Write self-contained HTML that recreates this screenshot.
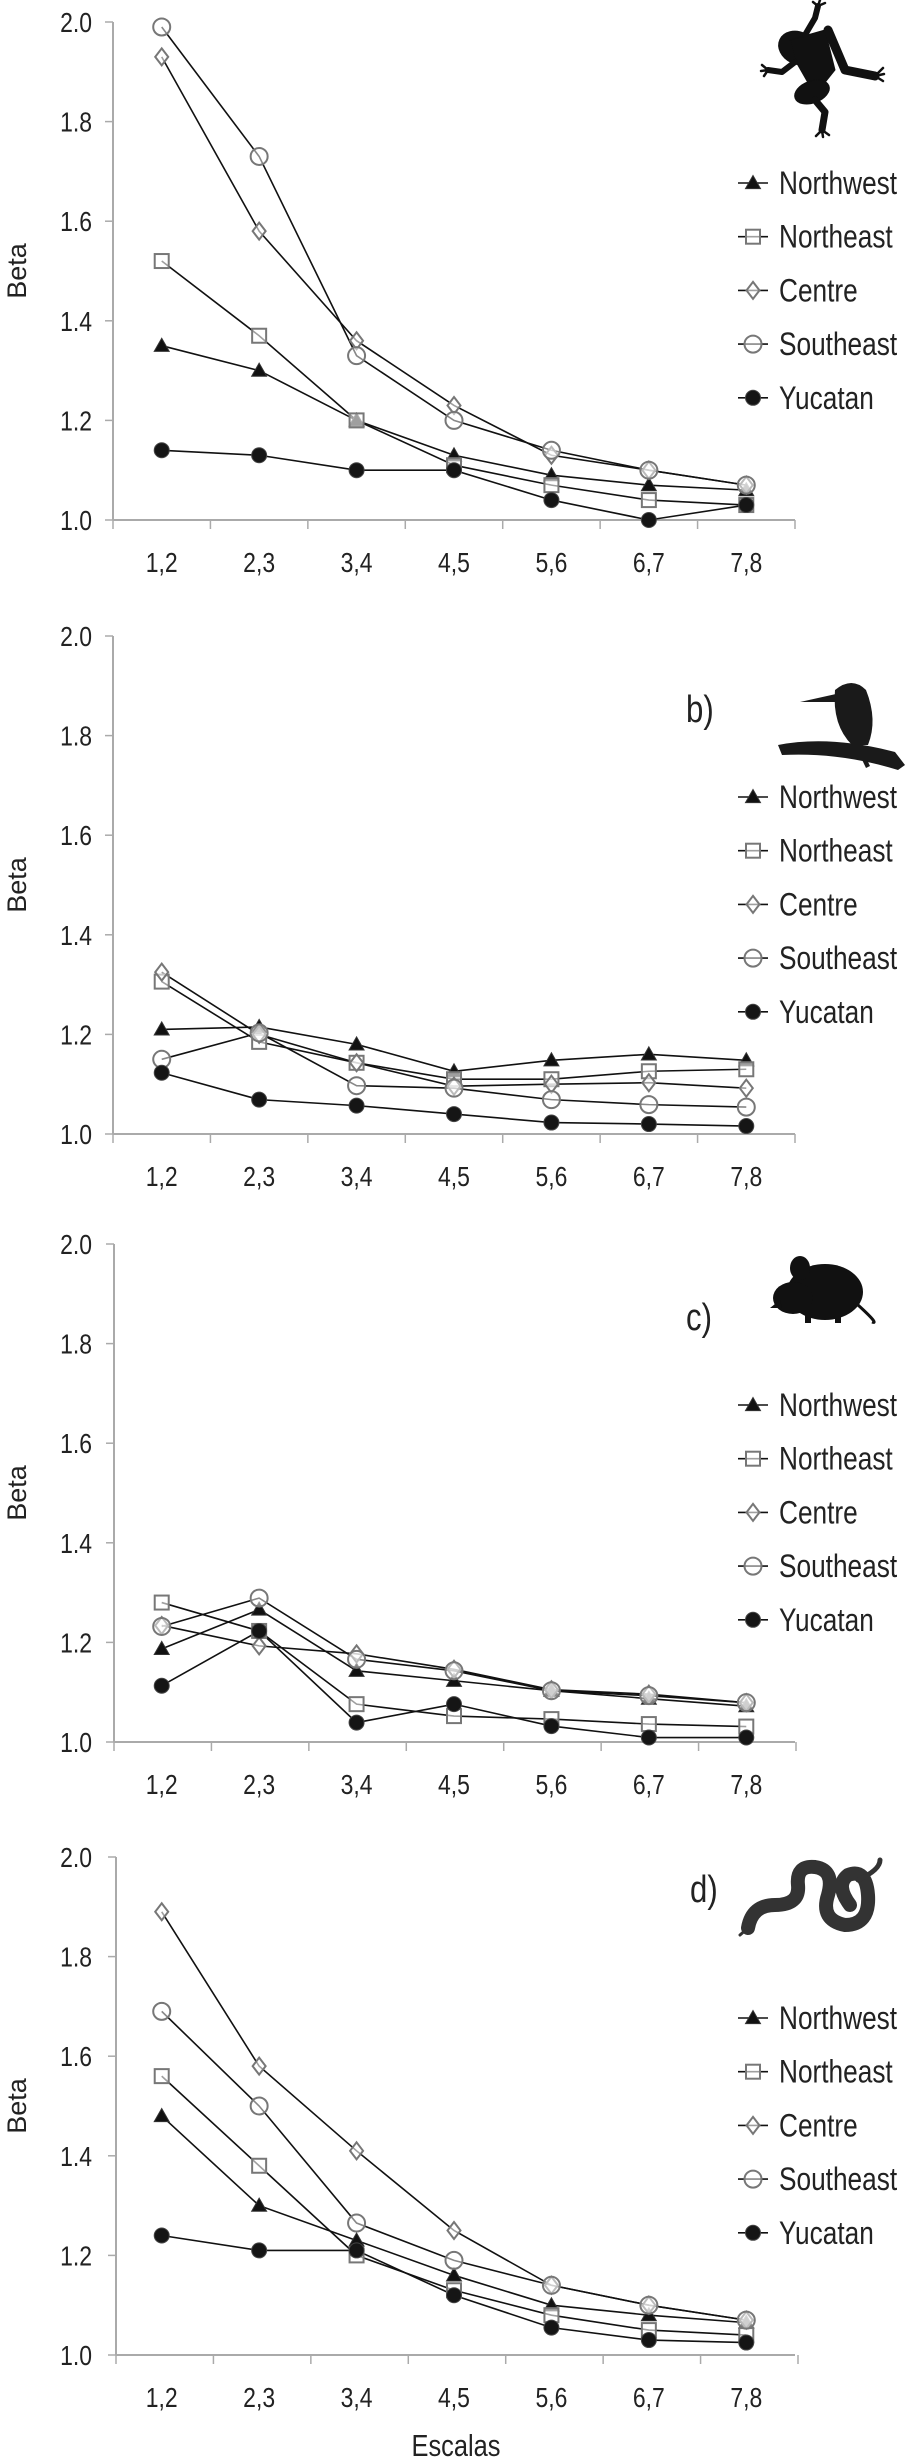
<!DOCTYPE html>
<html><head><meta charset="utf-8"><style>
html,body{margin:0;padding:0;background:#fff;}
svg{display:block;font-family:"Liberation Sans",sans-serif;}
</style></head><body>
<svg id="fig" width="921" height="2464" viewBox="0 0 921 2464"></svg>
<script>
const categories = ["1,2","2,3","3,4","4,5","5,6","6,7","7,8"];
const yTicks = [1.0,1.2,1.4,1.6,1.8,2.0];
const seriesNames = ["Northwest","Northeast","Centre","Southeast","Yucatan"];
const markers = ["triangle","square","diamond","circle","dot"];
const panelLabels = ["","b)","c)","d)"];
// panel a (frog)
const aNW=[1.35,1.30,1.20,1.13,1.09,1.07,1.06];
const aNE=[1.52,1.37,1.20,1.11,1.07,1.04,1.03];
const aCE=[1.93,1.58,1.36,1.23,1.13,1.10,1.07];
const aSE=[1.99,1.73,1.33,1.20,1.14,1.10,1.07];
const aYU=[1.14,1.13,1.10,1.10,1.04,1.00,1.03];
// panel b (bird)
const bNW=[1.21,1.215,1.18,1.126,1.148,1.16,1.148];
const bNE=[1.306,1.185,1.143,1.11,1.11,1.126,1.13];
const bCE=[1.325,1.20,1.143,1.096,1.10,1.103,1.092];
const bSE=[1.15,1.203,1.097,1.092,1.069,1.059,1.054];
const bYU=[1.123,1.069,1.057,1.04,1.023,1.02,1.016];
// panel c (mouse)
const cNW=[1.187,1.266,1.143,1.123,1.103,1.087,1.072];
const cNE=[1.28,1.223,1.076,1.052,1.046,1.036,1.031];
const cCE=[1.234,1.193,1.177,1.146,1.105,1.096,1.079];
const cSE=[1.232,1.289,1.166,1.143,1.103,1.093,1.079];
const cYU=[1.113,1.223,1.039,1.076,1.032,1.009,1.009];
// panel d (snake)
const dNW=[1.48,1.30,1.23,1.16,1.10,1.08,1.065];
const dNE=[1.56,1.38,1.20,1.13,1.08,1.05,1.04];
const dCE=[1.89,1.58,1.41,1.25,1.14,1.10,1.07];
const dSE=[1.69,1.50,1.265,1.19,1.14,1.10,1.07];
const dYU=[1.24,1.21,1.21,1.12,1.055,1.03,1.025];

const panels=[[aNW,aNE,aCE,aSE,aYU],[bNW,bNE,bCE,bSE,bYU],[cNW,cNE,cCE,cSE,cYU],[dNW,dNE,dCE,dSE,dYU]];
const panelTops=[22,636,1244,1857];
const panelNames=["panel-a-frogs","panel-b-birds","panel-c-mammals","panel-d-reptiles"];

const NS="http://www.w3.org/2000/svg";
const svg=document.getElementById('fig');
function mk(tag,attrs,parent){const e=document.createElementNS(NS,tag);for(const k in attrs)e.setAttribute(k,attrs[k]);(parent||svg).appendChild(e);return e;}
function ctext(parent,x,y,size,anchor,str){
  const t=mk('text',{x:0,y:0,'text-anchor':anchor,'font-size':size,fill:'#222',transform:`translate(${x},${y}) scale(0.82,1)`},parent);
  t.textContent=str;return t;
}

const X0=113,X1=795,PH=498;
const band=(X1-X0)/categories.length;
function xPos(i){return X0+band*(i+0.5);}

function drawMarker(g,type,x,y){
  const r=7.5;
  let e;
  if(type==="triangle") e=mk('polygon',{points:`${x},${y-r} ${x+r},${y+r*0.75} ${x-r},${y+r*0.75}`,fill:'#111',stroke:'#333','stroke-width':1},g);
  else if(type==="square") e=mk('rect',{x:x-r+0.5,y:y-r+0.5,width:2*r-1,height:2*r-1,fill:'#fff','fill-opacity':0.6,stroke:'#777','stroke-width':2},g);
  else if(type==="diamond") e=mk('polygon',{points:`${x},${y-r-1} ${x+r-1},${y} ${x},${y+r+1} ${x-r+1},${y}`,fill:'#fff','fill-opacity':0.6,stroke:'#777','stroke-width':2},g);
  else if(type==="circle") e=mk('circle',{cx:x,cy:y,r:r+1,fill:'#fff','fill-opacity':0.5,stroke:'#777','stroke-width':2},g);
  else e=mk('circle',{cx:x,cy:y,r:r,fill:'#151515',stroke:'#444','stroke-width':1},g);
  return e;
}

panels.forEach((data,p)=>{
  const top=panelTops[p],bot=top+PH;
  const yPos=v=>bot-(v-1.0)/(2.0-1.0)*PH;
  const g=mk('g',{});
  
  
  const xoff=p===3?3:(p===2?1:0);
  const ya=mk('line',{x1:X0+xoff,y1:top,x2:X0+xoff,y2:bot,stroke:'#aaa','stroke-width':2},g);
  
  
  yTicks.forEach(t=>{
    const y=yPos(t);
    mk('line',{x1:X0+xoff-8,y1:y,x2:X0+xoff,y2:y,stroke:'#aaa','stroke-width':1.5},g);
    const tx=ctext(g,92,y+10,28,'end',t.toFixed(1));
    
    
  });
  const xa=mk('line',{x1:X0+xoff,y1:bot,x2:X1,y2:bot,stroke:'#aaa','stroke-width':2},g);
  
  
  for(let i=0;i<=categories.length;i++){
    const x=X0+xoff+band*i;
    mk('line',{x1:x,y1:bot,x2:x,y2:bot+9,stroke:'#aaa','stroke-width':1.5},g);
  }
  categories.forEach((c,i)=>{
    const tx=ctext(g,xPos(i),bot+52,28,'middle',c);
    
    
  });
  const bl=mk('text',{x:0,y:0,'text-anchor':'middle','font-size':27,fill:'#222',transform:`translate(26,${top+PH/2}) rotate(-90)`},g);
  bl.textContent="Beta";
  
  
  data.forEach((vals,s)=>{
    const pts=vals.map((v,i)=>`${xPos(i)},${yPos(v)}`).join(' ');
    const pl=mk('polyline',{points:pts,fill:'none',stroke:'#111','stroke-width':1.6},g);
    
    
  });
  data.forEach((vals,s)=>{
    vals.forEach((v,i)=>{
      const m=drawMarker(g,markers[s],xPos(i),yPos(v));
      
      
    });
  });
  seriesNames.forEach((n,s)=>{
    const ly=top+161+s*53.7;
    const lg=mk('g',{},g);
    
    
    mk('line',{x1:738,y1:ly,x2:768,y2:ly,stroke:'#111','stroke-width':1.6},lg);
    drawMarker(lg,markers[s],753,ly);
    ctext(lg,779,ly+11,32,'start',n);
  });
  if(panelLabels[p]){
    const pl=ctext(g,p===3?690:686,p===3?top+45:top+86,38,'start',panelLabels[p]);
    
    
  }
});

function icon(name,inner){const g=mk('g',{});g.innerHTML=inner;}
icon('frog-icon',`<g fill="#111" stroke="#111" stroke-linecap="round" stroke-linejoin="round">
<ellipse cx="798" cy="48" rx="20" ry="16" transform="rotate(25 798 48)"/>
<path d="M790 40 L825 30 L835 70 L815 95 L795 60 Z"/>
<ellipse cx="812" cy="92" rx="18" ry="11" transform="rotate(-20 812 92)"/>
<path d="M828 30 L845 70 L875 76" stroke-width="9" fill="none"/>
<path d="M805 35 L815 18 L818 6" stroke-width="6" fill="none"/>
<path d="M795 62 L782 72 L768 70" stroke-width="6" fill="none"/>
<path d="M815 100 L825 112 L822 130" stroke-width="7" fill="none"/>
<path d="M818 6 l-5 -4 M818 6 l2 -6 M818 6 l7 -3 M768 70 l-6 -5 M768 70 l-7 1 M768 70 l-4 6 M875 76 l8 -8 M875 76 l9 -2 M875 76 l8 5 M822 130 l-6 6 M822 130 l1 7 M822 130 l7 5" stroke-width="2.5" fill="none"/></g>`);
icon('bird-icon',`<g fill="#1a1a1a">
<path d="M835 690 Q852 676 866 690 Q878 720 868 745 L852 745 Q832 725 835 690 Z"/>
<path d="M836 694 L800 702 L836 702 Z"/>
<path d="M778 745 Q830 735 895 752 L905 765 L898 770 Q840 752 782 755 Z"/>
<path d="M855 745 L866 768 L870 766 L860 745 Z"/></g>`);
icon('mouse-icon',`<g fill="#111">
<ellipse cx="825" cy="1292" rx="38" ry="28"/>
<ellipse cx="793" cy="1298" rx="20" ry="16"/>
<ellipse cx="800" cy="1268" rx="10" ry="12"/>
<path d="M780 1300 L770 1308 L782 1308 Z"/>
<path d="M858 1305 Q880 1325 872 1322" stroke="#111" stroke-width="3" fill="none"/>
<rect x="805" y="1315" width="6" height="8"/><rect x="835" y="1315" width="6" height="8"/></g>`);
icon('snake-icon',`<g fill="none" stroke="#333" stroke-linecap="round">
<path d="M748 1928 Q752 1905 775 1905 Q800 1905 798 1885 Q796 1865 815 1867 Q835 1870 828 1895 Q820 1920 845 1925 Q870 1925 868 1895 Q866 1868 848 1875 Q835 1885 850 1905" stroke-width="14"/>
<path d="M858 1880 Q880 1870 880 1860" stroke-width="5"/>
<path d="M740 1935 L748 1928" stroke-width="3"/></g>`);

const ex=ctext(svg,456,2456,31,'middle',"Escalas");


</script>
</body></html>
